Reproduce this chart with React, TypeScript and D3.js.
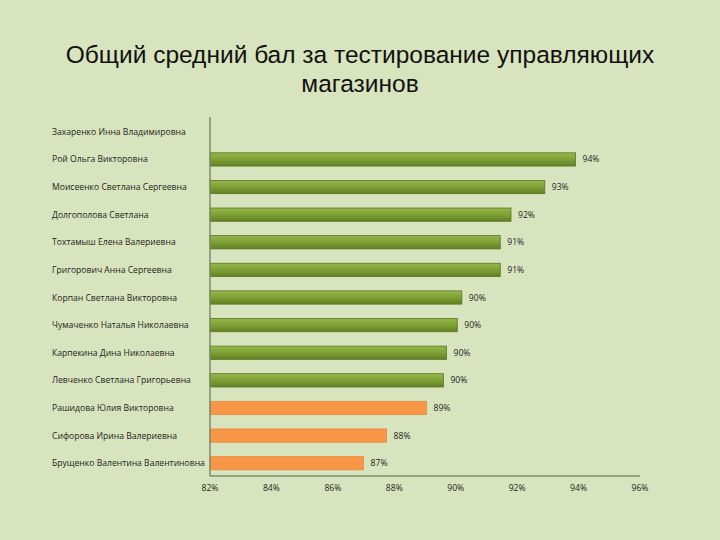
import React from 'react';
import * as d3 from 'd3';

const names = [
  'Захаренко Инна Владимировна',
  'Рой Ольга Викторовна',
  'Моисеенко Светлана Сергеевна',
  'Долгополова Светлана',
  'Тохтамыш Елена Валериевна',
  'Григорович Анна Сергеевна',
  'Корпан Светлана Викторовна',
  'Чумаченко Наталья Николаевна',
  'Карпекина Дина Николаевна',
  'Левченко Светлана Григорьевна',
  'Рашидова Юлия Викторовна',
  'Сифорова Ирина Валериевна',
  'Брущенко Валентина Валентиновна',
];
// null = no bar shown
const scores: (number | null)[] = [null, 93.9, 92.9, 91.8, 91.45, 91.45, 90.2, 90.05, 89.7, 89.6, 89.05, 87.75, 87.0];
const labels = ['', '94%', '93%', '92%', '91%', '91%', '90%', '90%', '90%', '90%', '89%', '88%', '87%'];
const isLow = [false, false, false, false, false, false, false, false, false, false, true, true, true];
const ticks = [82, 84, 86, 88, 90, 92, 94, 96];

export default function App() {
  const width = 720;
  const height = 540;
  const x = d3.scaleLinear().domain([82, 96]).range([210, 640]);
  const y = d3.scaleBand().domain(names).range([118, 477]).paddingInner(0.52).paddingOuter(0.26);
  const font = 'Open Sans, Liberation Sans, sans-serif';

  return (
    <svg width={width} height={height} style={{ position: 'absolute', left: 0, top: 0 }}>
      <defs>
        <linearGradient id="greenBar" x1="0" y1="0" x2="0" y2="1">
          <stop offset="0%" stopColor="#95b84a" />
          <stop offset="55%" stopColor="#7c9e34" />
          <stop offset="100%" stopColor="#617f24" />
        </linearGradient>
      </defs>
      <rect x={0} y={0} width={width} height={height} fill="#d8e4bd" />
      <text x={360} y={63} textAnchor="middle" fontFamily="Liberation Sans, Arial, sans-serif" fontSize={24.5} fill="#111">
        Общий средний бал за тестирование управляющих
      </text>
      <text x={360} y={92} textAnchor="middle" fontFamily="Liberation Sans, Arial, sans-serif" fontSize={24.5} fill="#111">
        магазинов
      </text>

      {names.map((n, i) => {
        const yy = y(n)!;
        const v = scores[i];
        return (
          <g key={n}>
            <text x={52} y={yy + y.bandwidth() / 2} dy="0.35em" fontFamily={font} fontSize={8.6} fill="#1e1e1e">
              {n}
            </text>
            {v !== null && (
              <>
                <rect
                  x={x(82)}
                  y={yy}
                  width={x(v) - x(82)}
                  height={y.bandwidth()}
                  fill={isLow[i] ? '#f79646' : 'url(#greenBar)'}
                  stroke={isLow[i] ? '#e58a3f' : '#5a7424'}
                  strokeWidth={0.8}
                />
                <text x={x(v) + 7} y={yy + y.bandwidth() / 2} dy="0.35em" fontFamily={font} fontSize={8.6} fill="#1e1e1e">
                  {labels[i]}
                </text>
              </>
            )}
          </g>
        );
      })}

      <line x1={x(82)} x2={x(82)} y1={117} y2={476} stroke="#7f8c6a" strokeWidth={1.5} />
      <line x1={x(82)} x2={x(96)} y1={476} y2={476} stroke="#7f8c6a" strokeWidth={1.5} />
      {ticks.map((t) => (
        <text key={t} x={x(t)} y={488} dy="0.35em" textAnchor="middle" fontFamily={font} fontSize={8.6} fill="#1e1e1e">
          {t}%
        </text>
      ))}
    </svg>
  );
}
